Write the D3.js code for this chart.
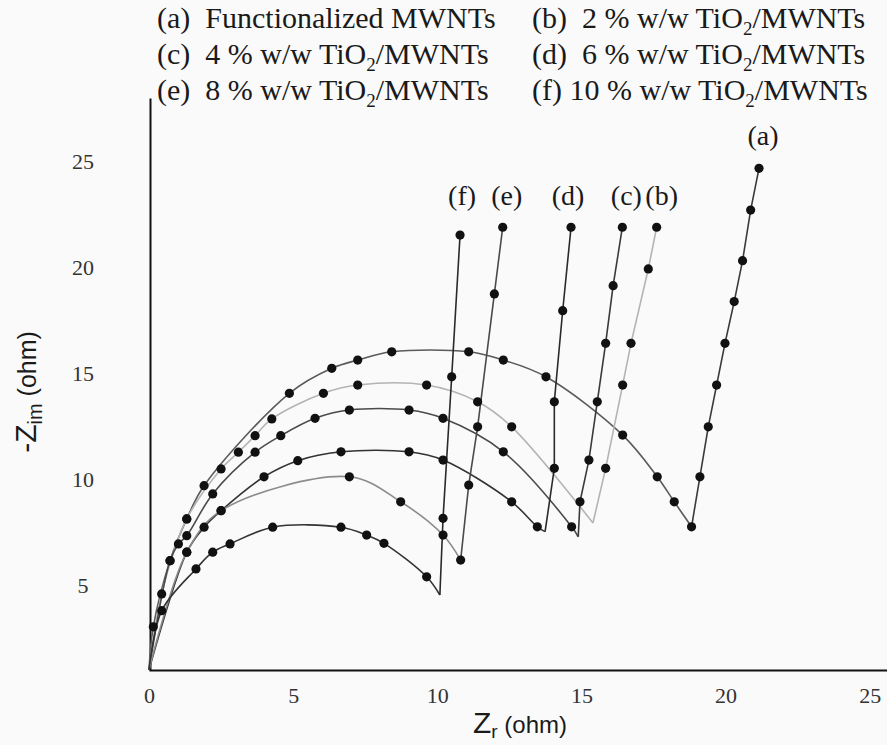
<!DOCTYPE html>
<html>
<head>
<meta charset="utf-8">
<script src="https://cdn.jsdelivr.net/npm/d3@7"></script>
<style>
    body { margin:0; background:#fafafa; }
    svg  { display:block; }
    .serif { font-family:"Liberation Serif","Times New Roman",serif; fill:#1a1a1a; white-space:pre; }
    .sans  { font-family:"Liberation Sans",Arial,sans-serif; fill:#1a1a1a; }
</style>
</head>
<body>
<svg id="chart" width="887" height="745"></svg>
<script>
//Nyquist data, Z_r vs -Z_im (ohm): one arc + one spike per sample
var origin = [0, 1];

var arcA   = [[0.15,3.04],[0.73,6.16],[1.31,8.13],[1.91,9.70],[4.87,14.06],[6.34,15.24],[7.24,15.63],[8.42,16.02],[11.09,16.02],[12.29,15.63],[13.77,14.84],[16.43,12.09],[17.63,10.12],[18.22,8.94],[18.82,7.76]];
var spikeA = [[19.11,10.12],[19.40,12.48],[19.69,14.45],[19.98,16.42],[20.30,18.39],[20.59,20.32],[20.87,22.71],[21.16,24.68]];

var arcB   = [[0.44,4.59],[1.31,8.13],[2.50,10.49],[3.10,11.28],[3.68,12.06],[4.26,12.85],[6.05,14.06],[7.24,14.45],[9.63,14.45],[11.40,13.66],[12.58,12.48]];
var kneeB  = [15.40,7.94];
var spikeB = [[15.84,10.52],[16.43,14.45],[16.72,16.42],[17.32,19.93],[17.61,21.90]];

var arcC   = [[0.73,6.16],[1.02,6.95],[1.31,7.34],[2.21,9.31],[3.68,11.28],[4.57,12.06],[5.76,12.88],[6.95,13.27],[9.02,13.27],[10.20,12.88],[12.29,11.30],[14.66,7.76]];
var kneeC  = [14.89,7.29];
var spikeC = [[14.95,8.94],[15.26,10.91],[15.55,13.66],[15.84,16.42],[16.10,19.14],[16.42,21.90]];

var arcD   = [[1.31,6.56],[1.91,7.74],[2.50,8.52],[3.99,10.12],[5.16,10.88],[6.66,11.30],[9.02,11.30],[10.20,10.91],[12.58,8.94],[13.47,7.76]];
var kneeD  = [13.74,7.53];
var spikeD = [[14.06,10.52],[14.06,13.66],[14.35,17.96],[14.64,21.90]];

var arcE   = [[1.31,6.56],[2.50,8.52],[6.95,10.12],[8.73,8.94],[10.20,7.37],[10.81,6.19]];
var spikeE = [[11.09,9.73],[11.40,12.48],[11.98,18.75],[12.27,21.90]];

var arcF   = [[0.44,3.80],[1.63,5.77],[2.21,6.56],[2.81,6.95],[4.29,7.74],[6.66,7.74],[7.55,7.37],[8.15,6.98],[9.63,5.40]];
var kneeF  = [10.09,4.54];
var spikeF = [[10.20,8.16],[10.50,14.84],[10.79,21.53]];

var xTicks = [0, 5, 10, 15, 20, 25];
var yTicks = [5, 10, 15, 20, 25];

var legendRows = [
    ['(a)  Functionalized MWNTs', '(b)  2 % w/w TiO2/MWNTs'],
    ['(c)  4 % w/w TiO2/MWNTs',   '(d)  6 % w/w TiO2/MWNTs'],
    ['(e)  8 % w/w TiO2/MWNTs',   '(f) 10 % w/w TiO2/MWNTs']
];

//series table for drawing
var series = [
    {id:'a', arc:arcA, knee:null,  spike:spikeA},
    {id:'b', arc:arcB, knee:kneeB, spike:spikeB},
    {id:'c', arc:arcC, knee:kneeC, spike:spikeC},
    {id:'d', arc:arcD, knee:kneeD, spike:spikeD},
    {id:'e', arc:arcE, knee:null,  spike:spikeE},
    {id:'f', arc:arcF, knee:kneeF, spike:spikeF}
];

//line shades (arc, spike)
var shade = {
    a: ['#5a5a5a', '#3a3a3a'],
    b: ['#b4b4b4', '#b4b4b4'],
    c: ['#4a4a4a', '#3a3a3a'],
    d: ['#333333', '#2a2a2a'],
    e: ['#8c8c8c', '#4a4a4a'],
    f: ['#333333', '#2a2a2a']
};

//label nudges (px) above each spike
var labelNudge = {a:4, b:5, c:4, d:-3, e:4, f:2};

var serifFont = '"Liberation Serif","Times New Roman",serif';

var svg = d3.select('#chart');

var x = d3.scaleLinear().domain([0, 25.6]).range([149, 887]);
var y = d3.scaleLinear().domain([1, 28]).range([670, 98]);

//Legend block
var legend = svg.append('g');
legendRows.forEach(function(row, i){
    row.forEach(function(txt, j){
        var t = legend.append('text')
            .attr('class','serif')
            .attr('x', j === 0 ? 157 : 532)
            .attr('y', 28 + i*36)
            .style('font-size','30px');
        var parts = txt.split('TiO2');
        t.append('tspan').text(parts[0] + (parts.length > 1 ? 'TiO' : ''));
        if (parts.length > 1)
        {
            t.append('tspan').attr('dy', 7).style('font-size','19px').text('2');
            t.append('tspan').attr('dy', -7).text(parts[1]);
        }
    });
});

//Axes
var xAxis = svg.append('g')
    .attr('transform','translate(0,670)')
    .call(d3.axisBottom(x).tickValues(xTicks).tickSize(0).tickSizeOuter(0).tickPadding(17));

var yAxis = svg.append('g')
    .attr('transform','translate(150,0)')
    .call(d3.axisLeft(y).tickValues(yTicks).tickSize(0).tickSizeOuter(0).tickPadding(0));

[xAxis, yAxis].forEach(function(g){
    g.attr('font-family', serifFont).attr('font-size', 22);
    g.select('.domain').attr('stroke','#111').attr('stroke-width',2);
    g.selectAll('text')
        .style('font-family', serifFont)
        .style('font-size','22px')
        .style('fill','#333');
});
yAxis.selectAll('text').attr('x', -67).attr('text-anchor','middle');

//Axis titles
var xt = svg.append('text').attr('class','sans').attr('x', 520).attr('y', 733).attr('text-anchor','middle');
xt.append('tspan').style('font-size','30px').text('Z');
xt.append('tspan').style('font-size','19px').attr('dy', 5).text('r');
xt.append('tspan').style('font-size','24px').attr('dy', -5).text(' (ohm)');

var yt = svg.append('text').attr('class','sans')
    .attr('transform','translate(36,392) rotate(-90)')
    .attr('text-anchor','middle');
yt.append('tspan').style('font-size','30px').text('-Z');
yt.append('tspan').style('font-size','20px').attr('dy', 6).text('im');
yt.append('tspan').style('font-size','25px').attr('dy', -6).text(' (ohm)');

//Curves
var arcLine = d3.line()
    .x(function(d){ return x(d[0]); })
    .y(function(d){ return y(d[1]); })
    .curve(d3.curveCatmullRom.alpha(0.5));

var spikeLine = d3.line()
    .x(function(d){ return x(d[0]); })
    .y(function(d){ return y(d[1]); });

var lines = svg.append('g').attr('fill','none').attr('stroke-width',1.6);
series.forEach(function(s){
    var end = s.knee ? s.knee : s.arc[s.arc.length-1];
    var arcPts = [origin].concat(s.arc);
    if (s.knee) arcPts.push(s.knee);

    lines.append('path').attr('d', arcLine(arcPts)).attr('stroke', shade[s.id][0]);
    lines.append('path').attr('d', spikeLine([end].concat(s.spike))).attr('stroke', shade[s.id][1]);
});

//Data points
var dots = svg.append('g').attr('fill','#111');
series.forEach(function(s){
    dots.selectAll(null)
        .data(s.arc.concat(s.spike))
        .enter().append('circle')
        .attr('cx', function(d){ return x(d[0]); })
        .attr('cy', function(d){ return y(d[1]); })
        .attr('r', 4.6);
});

//Sample labels over the spikes
series.forEach(function(s){
    var top = s.spike[s.spike.length-1];
    var ly  = s.id === 'a' ? y(top[1]) - 33 : y(21.9) - 32;
    svg.append('text')
        .attr('class','serif')
        .attr('x', x(top[0]) + labelNudge[s.id])
        .attr('y', ly)
        .attr('dy','0.35em')
        .attr('text-anchor','middle')
        .style('font-size','28px')
        .text('(' + s.id + ')');
});
</script>
</body>
</html>
